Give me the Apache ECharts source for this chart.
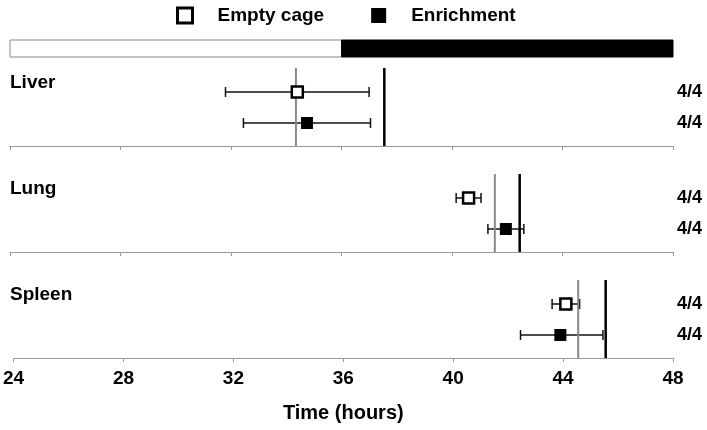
<!DOCTYPE html>
<html>
<head>
<meta charset="utf-8">
<script src="https://cdn.jsdelivr.net/npm/echarts@6/dist/echarts.min.js"></script>
<style>
  html, body { margin: 0; padding: 0; background: #fff; }
  #chart { width: 707px; height: 430px; }
</style>
</head>
<body>
<div id="chart"></div>
<script>
// time axis (hours)
const xMin = 24
const xMax = 48
const xStep = 4

const organs = ['Liver', 'Lung', 'Spleen']

// Empty cage: mean and error range
const emptyMean = [34.4, 40.6, 44.1]
const emptyLo = [31.8, 40.15, 43.6]
const emptyHi = [37.0, 41.05, 44.6]

// Enrichment: mean and error range
const enrMean = [34.75, 41.95, 43.9]
const enrLo = [32.45, 41.3, 42.45]
const enrHi = [37.05, 42.6, 45.45]

// reference lines per organ
const greyLine = [34.35, 41.55, 44.55]
const blackLine = [37.55, 42.45, 45.55]

// n / total per row
const emptyCount = ['4/4', '4/4', '4/4']
const enrCount = ['4/4', '4/4', '4/4']

// light / dark bar on top
const phases = [[24, 36, 'light'], [36, 48, 'dark']]

// row heights inside each panel (0..100)
const rowEmpty = 54
const rowEnr = 23
const lineTop = 78

const axisY = [146, 252, 358]
const FONT = '"Liberation Sans", Arial, sans-serif'

const chartDom = document.getElementById('chart')
const myChart = echarts.init(chartDom)

const grids = [{ left: 10, right: 34, top: 40, height: 17 }]
const xAxes = [{ gridIndex: 0, type: 'value', min: xMin, max: xMax, show: false }]
const yAxes = [{ gridIndex: 0, type: 'value', min: 0, max: 1, show: false }]
const series = []

series.push({
  type: 'custom',
  xAxisIndex: 0,
  yAxisIndex: 0,
  silent: true,
  data: phases,
  renderItem: (params, api) => {
    const p0 = api.coord([api.value(0), 1])
    const p1 = api.coord([api.value(1), 0])
    const dark = params.dataIndex === 1
    return {
      type: 'rect',
      shape: { x: p0[0], y: p0[1], width: p1[0] - p0[0], height: p1[1] - p0[1] },
      style: { fill: dark ? '#000' : '#fff', stroke: dark ? '#000' : '#888', lineWidth: 1 }
    }
  }
})

const errRender = (params, api) => {
  const y = api.value(2)
  const a = api.coord([api.value(0), y])
  const b = api.coord([api.value(1), y])
  const s = { stroke: '#111', lineWidth: 1.5 }
  return {
    type: 'group',
    children: [
      { type: 'line', shape: { x1: a[0], y1: a[1], x2: b[0], y2: b[1] }, style: s },
      { type: 'line', shape: { x1: a[0], y1: a[1] - 5, x2: a[0], y2: a[1] + 5 }, style: s },
      { type: 'line', shape: { x1: b[0], y1: b[1] - 5, x2: b[0], y2: b[1] + 5 }, style: s }
    ]
  }
}

const graphics = []

organs.forEach((name, i) => {
  const g = i + 1
  const last = i === organs.length - 1
  grids.push({ left: 10, right: 34, top: axisY[i] - 100, height: 100 })
  xAxes.push({
    gridIndex: g,
    type: 'value',
    min: xMin,
    max: xMax,
    interval: xStep,
    splitLine: { show: false },
    axisLine: { show: true, lineStyle: { color: '#999', width: 1 } },
    axisTick: { show: true, length: 4, lineStyle: { color: '#999' } },
    axisLabel: {
      show: last,
      margin: 11,
      color: '#000',
      fontFamily: FONT,
      fontWeight: 'bold',
      fontSize: 19
    },
    name: last ? 'Time (hours)' : '',
    nameLocation: 'middle',
    nameGap: 45,
    nameTextStyle: { color: '#000', fontFamily: FONT, fontWeight: 'bold', fontSize: 20 }
  })
  yAxes.push({ gridIndex: g, type: 'value', min: 0, max: 100, show: false })

  // reference lines
  series.push({
    type: 'line',
    xAxisIndex: g,
    yAxisIndex: g,
    symbol: 'none',
    silent: true,
    lineStyle: { color: '#888', width: 2 },
    data: [[greyLine[i], 0], [greyLine[i], lineTop]]
  })
  series.push({
    type: 'line',
    xAxisIndex: g,
    yAxisIndex: g,
    symbol: 'none',
    silent: true,
    lineStyle: { color: '#000', width: 2.5 },
    data: [[blackLine[i], 0], [blackLine[i], lineTop]]
  })

  // error bars
  series.push({
    type: 'custom',
    xAxisIndex: g,
    yAxisIndex: g,
    silent: true,
    renderItem: errRender,
    data: [[emptyLo[i], emptyHi[i], rowEmpty], [enrLo[i], enrHi[i], rowEnr]],
    z: 3
  })

  // means
  series.push({
    name: 'Empty cage',
    type: 'scatter',
    xAxisIndex: g,
    yAxisIndex: g,
    symbol: 'rect',
    symbolSize: 11,
    itemStyle: { color: '#fff', borderColor: '#000', borderWidth: 2.5, opacity: 1 },
    data: [[emptyMean[i], rowEmpty]],
    z: 5
  })
  series.push({
    name: 'Enrichment',
    type: 'scatter',
    xAxisIndex: g,
    yAxisIndex: g,
    symbol: 'rect',
    symbolSize: 12,
    itemStyle: { color: '#000', opacity: 1 },
    data: [[enrMean[i], rowEnr]],
    z: 5
  })

  // counts at the right
  series.push({
    type: 'scatter',
    xAxisIndex: g,
    yAxisIndex: g,
    symbolSize: 0,
    silent: true,
    itemStyle: { opacity: 1 },
    data: [
      { value: [xMax, rowEmpty], label: { formatter: emptyCount[i] } },
      { value: [xMax, rowEnr], label: { formatter: enrCount[i] } }
    ],
    label: {
      show: true,
      position: 'right',
      distance: 4,
      color: '#000',
      fontFamily: FONT,
      fontWeight: 'bold',
      fontSize: 18
    }
  })

  graphics.push({
    type: 'text',
    left: 10,
    top: axisY[i] - 73,
    style: { text: name, fill: '#000', font: 'bold 19px ' + FONT }
  })
})

const option = {
  animation: false,
  legend: {
    left: 171,
    top: 1,
    itemWidth: 15,
    itemHeight: 15,
    itemGap: 47,
    data: [
      { name: 'Empty cage', icon: 'rect', itemStyle: { color: '#fff', borderColor: '#000', borderWidth: 3 } },
      { name: 'Enrichment', icon: 'rect', itemStyle: { color: '#000', borderWidth: 0 } }
    ],
    textStyle: { color: '#000', fontFamily: FONT, fontWeight: 'bold', fontSize: 19, padding: [0, 0, 0, 20] }
  },
  grid: grids,
  xAxis: xAxes,
  yAxis: yAxes,
  series: series,
  graphic: graphics
}

myChart.setOption(option)
</script>
</body>
</html>
